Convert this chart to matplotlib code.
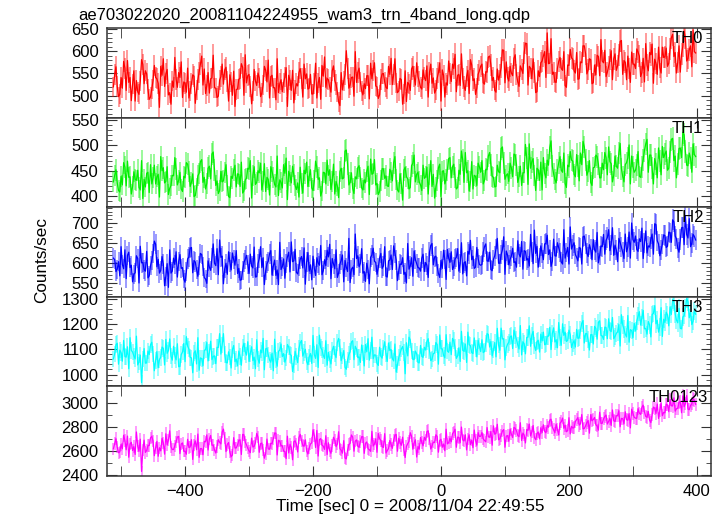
import numpy as np
import matplotlib
matplotlib.use("Agg")
import matplotlib.pyplot as plt
from matplotlib.ticker import MultipleLocator

plt.rcParams['font.family'] = ['Liberation Sans', 'DejaVu Sans']

# ==========================================================
# data (counts/sec, 2 s bins starting at t = -512 s)
# ==========================================================
t_start = -512
t_step = 2

th0 = [
    520, 548, 565, 521, 498, 503, 541, 517, 577, 562, 512, 579,
    530, 541, 489, 526, 556, 488, 534, 509, 503, 533, 581, 570,
    527, 556, 549, 514, 492, 497, 515, 534, 568, 541, 538, 528,
    474, 566, 546, 583, 521, 549, 559, 502, 507, 481, 533, 519,
    586, 537, 519, 552, 541, 576, 496, 531, 528, 508, 562, 495,
    510, 527, 547, 544, 483, 512, 536, 553, 571, 589, 524, 560,
    505, 523, 552, 506, 538, 540, 591, 518, 517, 496, 499, 535,
    543, 571, 526, 558, 564, 532, 488, 547, 531, 501, 555, 476,
    514, 515, 537, 539, 572, 564, 501, 592, 529, 545, 548, 521,
    482, 510, 559, 533, 523, 551, 540, 498, 506, 524, 566, 557,
    531, 580, 495, 543, 546, 518, 518, 491, 583, 507, 527, 536,
    509, 529, 542, 563, 476, 546, 535, 512, 557, 484, 513, 527,
    522, 552, 561, 538, 497, 571, 538, 549, 515, 517, 548, 504,
    504, 528, 573, 495, 529, 541, 492, 568, 544, 587, 519, 539,
    536, 520, 508, 556, 567, 534, 525, 509, 486, 478, 552, 513,
    533, 547, 601, 561, 517, 525, 541, 542, 499, 599, 530, 553,
    562, 531, 511, 502, 527, 516, 545, 545, 493, 573, 538, 557,
    574, 522, 520, 494, 502, 537, 549, 550, 531, 519, 516, 566,
    548, 584, 525, 548, 583, 529, 507, 511, 539, 536, 481, 503,
    556, 487, 530, 526, 512, 560, 566, 543, 524, 574, 543, 532,
    519, 515, 558, 541, 534, 567, 497, 552, 571, 528, 540, 506,
    513, 539, 552, 574, 488, 558, 546, 497, 529, 524, 578, 549,
    532, 571, 561, 593, 509, 546, 548, 523, 594, 538, 521, 512,
    543, 557, 505, 581, 569, 534, 538, 503, 517, 548, 556, 566,
    571, 529, 526, 554, 553, 587, 589, 569, 534, 541, 512, 508,
    560, 535, 547, 563, 603, 602, 529, 576, 541, 533, 566, 551,
    545, 584, 592, 547, 531, 521, 567, 559, 550, 596, 618, 617,
    524, 566, 562, 538, 583, 552, 507, 509, 556, 543, 574, 578,
    589, 599, 541, 641, 572, 573, 628, 548, 553, 531, 530, 562,
    577, 586, 561, 557, 599, 523, 519, 569, 568, 604, 585, 582,
    556, 551, 597, 537, 538, 576, 574, 612, 612, 594, 549, 558,
    583, 581, 527, 529, 569, 547, 591, 588, 545, 626, 578, 574,
    602, 543, 553, 566, 581, 601, 536, 583, 594, 557, 567, 592,
    622, 624, 548, 579, 575, 536, 589, 561, 530, 598, 571, 571,
    561, 605, 598, 589, 543, 552, 584, 531, 617, 569, 556, 597,
    592, 616, 528, 582, 573, 548, 609, 563, 551, 609, 586, 587,
    607, 566, 573, 604, 630, 638, 588, 597, 551, 575, 612, 553,
    594, 611, 645, 629, 578, 584, 603, 612, 565, 648, 599, 596,
]

th1 = [
    428, 441, 452, 426, 411, 408, 439, 422, 466, 457, 420, 469,
    437, 438, 404, 419, 448, 433, 431, 451, 417, 412, 470, 395,
    433, 418, 445, 447, 407, 462, 424, 436, 461, 424, 438, 443,
    398, 478, 450, 456, 426, 429, 458, 403, 415, 421, 441, 440,
    476, 453, 422, 431, 447, 414, 409, 439, 436, 466, 463, 448,
    419, 427, 444, 399, 401, 416, 440, 445, 468, 472, 427, 437,
    414, 425, 455, 459, 434, 483, 487, 452, 421, 430, 405, 411,
    449, 428, 430, 446, 462, 421, 399, 397, 439, 435, 451, 461,
    418, 444, 443, 419, 467, 406, 410, 432, 435, 455, 453, 470,
    396, 441, 458, 423, 427, 450, 446, 465, 412, 428, 464, 409,
    437, 433, 402, 458, 448, 437, 423, 418, 479, 401, 432, 427,
    416, 462, 445, 475, 393, 449, 440, 426, 459, 442, 421, 413,
    426, 398, 457, 424, 406, 451, 444, 467, 419, 439, 452, 416,
    411, 430, 469, 457, 433, 436, 400, 410, 447, 446, 424, 471,
    441, 452, 413, 429, 463, 404, 429, 420, 397, 448, 455, 434,
    436, 489, 491, 463, 422, 427, 446, 415, 405, 438, 434, 456,
    460, 437, 416, 412, 432, 426, 449, 459, 403, 473, 443, 445,
    472, 422, 425, 403, 409, 431, 454, 454, 435, 440, 420, 419,
    453, 447, 430, 466, 478, 432, 412, 408, 444, 425, 392, 451,
    457, 438, 434, 414, 417, 460, 465, 481, 428, 443, 447, 428,
    422, 411, 461, 435, 438, 457, 404, 442, 470, 419, 443, 396,
    418, 430, 456, 463, 399, 449, 450, 424, 433, 452, 474, 476,
    436, 458, 463, 436, 414, 417, 451, 443, 489, 471, 427, 486,
    446, 450, 410, 428, 468, 414, 441, 439, 421, 465, 458, 447,
    470, 424, 431, 453, 452, 479, 486, 461, 439, 437, 418, 419,
    461, 448, 446, 494, 497, 466, 433, 441, 444, 429, 465, 456,
    438, 483, 481, 462, 427, 438, 459, 421, 446, 446, 502, 475,
    423, 503, 455, 468, 474, 440, 411, 455, 452, 431, 467, 412,
    476, 445, 436, 471, 461, 496, 509, 459, 444, 433, 426, 452,
    466, 478, 451, 447, 485, 425, 417, 461, 458, 488, 471, 469,
    443, 438, 482, 460, 430, 485, 462, 508, 497, 472, 441, 449,
    470, 427, 421, 456, 457, 481, 478, 463, 436, 436, 465, 452,
    486, 476, 442, 497, 468, 464, 428, 441, 479, 459, 455, 485,
    504, 454, 439, 428, 462, 466, 475, 501, 424, 479, 458, 447,
    451, 462, 488, 439, 437, 458, 472, 490, 503, 512, 447, 481,
    481, 455, 424, 474, 463, 436, 495, 469, 442, 498, 476, 483,
    489, 451, 455, 487, 512, 514, 470, 479, 436, 463, 494, 495,
    476, 526, 521, 488, 461, 460, 485, 475, 447, 503, 482, 478,
]

th2 = [
    612, 608, 578, 584, 603, 567, 641, 596, 585, 633, 560, 619,
    627, 588, 594, 552, 571, 575, 618, 611, 549, 642, 600, 601,
    583, 579, 629, 562, 567, 593, 606, 624, 655, 647, 590, 609,
    574, 581, 616, 597, 542, 566, 598, 538, 633, 574, 579, 612,
    596, 628, 564, 603, 621, 586, 588, 559, 551, 577, 610, 615,
    637, 639, 575, 606, 602, 582, 566, 594, 624, 621, 590, 563,
    559, 548, 605, 589, 581, 612, 648, 599, 593, 636, 570, 658,
    614, 617, 547, 585, 599, 571, 628, 602, 582, 625, 608, 594,
    631, 573, 586, 556, 557, 581, 601, 609, 619, 596, 573, 622,
    592, 587, 640, 564, 565, 598, 611, 641, 588, 613, 545, 580,
    598, 604, 623, 631, 569, 592, 607, 568, 582, 545, 652, 583,
    590, 610, 561, 599, 615, 627, 577, 653, 603, 605, 634, 576,
    572, 591, 609, 616, 587, 638, 546, 602, 626, 579, 595, 557,
    617, 586, 568, 613, 600, 594, 644, 570, 580, 608, 593, 632,
    615, 647, 560, 611, 597, 585, 633, 563, 574, 597, 606, 620,
    552, 606, 589, 578, 662, 550, 584, 589, 570, 673, 611, 618,
    590, 599, 636, 574, 578, 553, 599, 582, 547, 614, 620, 637,
    604, 601, 571, 588, 612, 624, 586, 592, 641, 566, 564, 605,
    607, 620, 583, 643, 625, 607, 555, 581, 597, 596, 613, 571,
    576, 549, 649, 584, 592, 613, 566, 630, 608, 598, 588, 587,
    579, 612, 622, 578, 601, 594, 563, 627, 644, 649, 595, 615,
    617, 591, 573, 563, 606, 586, 632, 608, 558, 634, 612, 601,
    628, 583, 591, 610, 614, 636, 579, 598, 651, 572, 600, 603,
    567, 629, 622, 657, 608, 617, 586, 589, 639, 611, 596, 594,
    596, 627, 641, 648, 605, 604, 627, 583, 580, 609, 618, 636,
    662, 599, 599, 621, 633, 666, 571, 630, 620, 595, 609, 617,
    637, 601, 603, 589, 656, 622, 615, 654, 584, 631, 629, 607,
    611, 592, 672, 628, 598, 683, 624, 642, 589, 613, 643, 625,
    608, 648, 649, 670, 621, 633, 591, 604, 660, 618, 617, 651,
    638, 626, 602, 597, 684, 612, 626, 639, 597, 691, 635, 644,
    651, 621, 614, 605, 639, 637, 597, 666, 668, 648, 625, 616,
    646, 634, 608, 659, 633, 627, 677, 600, 619, 643, 641, 672,
    622, 657, 664, 684, 631, 646, 689, 619, 645, 633, 603, 662,
    652, 639, 627, 611, 673, 628, 640, 678, 612, 701, 659, 652,
    668, 634, 629, 661, 654, 688, 611, 651, 681, 625, 643, 640,
    660, 673, 622, 699, 697, 656, 648, 618, 633, 647, 671, 669,
    639, 642, 678, 676, 652, 709, 704, 668, 661, 637, 627, 659,
    689, 690, 646, 718, 672, 663, 712, 641, 650, 672, 667, 658,
]

th3 = [
    1062, 1082, 1118, 1124, 1041, 1097, 1087, 1053, 1135, 1071, 1069, 1110,
    1023, 1146, 1096, 1089, 1074, 1062, 1152, 1038, 1050, 1077, 968, 1061,
    1103, 1045, 1046, 1093, 1079, 1118, 1128, 1081, 1015, 1056, 1091, 1027,
    1060, 1068, 1109, 1104, 1038, 1139, 1084, 1095, 1141, 1073, 1057, 1112,
    1075, 1058, 1122, 1031, 1032, 1079, 1089, 1123, 1051, 1150, 1113, 1101,
    1068, 1066, 1007, 1085, 1094, 1042, 1146, 1017, 1066, 1063, 1035, 1096,
    1098, 1127, 1054, 1088, 1132, 1059, 1072, 1074, 1043, 1108, 1107, 1162,
    1081, 1117, 1162, 1080, 1048, 1046, 1090, 1069, 1026, 1099, 1115, 1051,
    1061, 1034, 1093, 1072, 1037, 1106, 1124, 1091, 1077, 1130, 1052, 1084,
    1110, 1055, 1069, 1023, 1138, 1061, 1045, 1097, 1086, 1143, 1019, 1102,
    1104, 1078, 1058, 1049, 1085, 1015, 1140, 1057, 1033, 1092, 1097, 1121,
    1071, 1083, 1049, 1066, 1119, 1109, 1080, 1076, 1012, 1040, 1092, 1071,
    1047, 1103, 1126, 1135, 1073, 1087, 1100, 1052, 1039, 1070, 1083, 1044,
    1155, 1079, 1064, 1118, 1028, 1156, 1106, 1098, 1076, 1064, 1134, 1037,
    1088, 1060, 1042, 1095, 1112, 1081, 1067, 1128, 1143, 1106, 1055, 1073,
    1095, 1029, 1021, 1058, 1079, 1090, 1129, 1134, 1059, 1112, 1101, 1067,
    1070, 1048, 1117, 1086, 1034, 1119, 1090, 1142, 1057, 1094, 1148, 1063,
    1078, 1077, 1044, 1036, 1108, 1072, 1065, 1105, 1130, 1081, 1052, 1125,
    1096, 1099, 1063, 1054, 1121, 1010, 1040, 1068, 1085, 1101, 1111, 1087,
    1003, 1126, 1074, 1148, 1137, 1093, 1060, 1059, 1093, 1082, 1048, 1046,
    1115, 1072, 1068, 1108, 1097, 1131, 1142, 1096, 1055, 1061, 1083, 1085,
    1127, 1119, 1041, 1157, 1102, 1102, 1076, 1066, 1158, 1093, 1088, 1128,
    1079, 1143, 1133, 1107, 1064, 1074, 1106, 1052, 1171, 1096, 1092, 1121,
    1048, 1168, 1118, 1115, 1087, 1083, 1145, 1104, 1070, 1136, 1112, 1091,
    1138, 1087, 1091, 1124, 1162, 1159, 1109, 1131, 1074, 1098, 1127, 1070,
    1183, 1117, 1096, 1184, 1141, 1142, 1058, 1106, 1120, 1128, 1149, 1153,
    1103, 1176, 1156, 1139, 1117, 1101, 1194, 1078, 1130, 1122, 1082, 1147,
    1148, 1193, 1112, 1156, 1171, 1114, 1095, 1130, 1136, 1089, 1160, 1133,
    1168, 1118, 1121, 1152, 1152, 1187, 1099, 1163, 1185, 1129, 1137, 1106,
    1206, 1145, 1116, 1201, 1155, 1168, 1131, 1135, 1176, 1158, 1107, 1124,
    1134, 1109, 1179, 1143, 1146, 1176, 1203, 1214, 1125, 1162, 1162, 1137,
    1097, 1158, 1158, 1121, 1191, 1183, 1140, 1207, 1213, 1155, 1153, 1139,
    1188, 1186, 1142, 1221, 1175, 1170, 1226, 1142, 1151, 1163, 1169, 1198,
    1113, 1237, 1197, 1180, 1160, 1149, 1234, 1128, 1178, 1174, 1146, 1203,
    1172, 1212, 1231, 1249, 1196, 1226, 1254, 1181, 1183, 1160, 1210, 1197,
    1149, 1238, 1242, 1273, 1201, 1215, 1168, 1189, 1265, 1151, 1219, 1206,
    1247, 1236, 1193, 1268, 1238, 1297, 1289, 1241, 1216, 1205, 1262, 1183,
    1181, 1228, 1234, 1262, 1301, 1289, 1225, 1247, 1198, 1211, 1253, 1239,
]

th0123 = [
    2618, 2662, 2702, 2631, 2585, 2593, 2655, 2618, 2731, 2687, 2610, 2724,
    2548, 2659, 2672, 2604, 2636, 2571, 2758, 2640, 2597, 2698, 2430, 2608,
    2690, 2588, 2604, 2645, 2645, 2709, 2722, 2683, 2561, 2627, 2679, 2556,
    2627, 2601, 2705, 2667, 2574, 2743, 2651, 2690, 2768, 2635, 2612, 2612,
    2643, 2676, 2716, 2721, 2578, 2658, 2667, 2597, 2599, 2573, 2697, 2629,
    2633, 2694, 2530, 2652, 2684, 2610, 2741, 2547, 2620, 2620, 2569, 2681,
    2676, 2734, 2608, 2700, 2729, 2648, 2649, 2609, 2583, 2637, 2694, 2672,
    2659, 2759, 2782, 2706, 2595, 2655, 2670, 2591, 2552, 2566, 2711, 2625,
    2625, 2650, 2688, 2693, 2571, 2738, 2735, 2674, 2652, 2622, 2601, 2586,
    2707, 2633, 2639, 2668, 2746, 2715, 2589, 2661, 2666, 2606, 2540, 2579,
    2699, 2617, 2614, 2664, 2662, 2702, 2750, 2748, 2567, 2689, 2681, 2643,
    2644, 2598, 2596, 2536, 2723, 2584, 2656, 2630, 2527, 2677, 2685, 2656,
    2592, 2711, 2738, 2685, 2647, 2639, 2693, 2601, 2575, 2624, 2658, 2668,
    2776, 2729, 2629, 2771, 2558, 2695, 2703, 2648, 2641, 2613, 2727, 2570,
    2668, 2603, 2581, 2647, 2714, 2690, 2637, 2657, 2760, 2619, 2606, 2582,
    2686, 2541, 2534, 2606, 2653, 2663, 2733, 2716, 2598, 2682, 2692, 2639,
    2631, 2678, 2719, 2719, 2580, 2664, 2675, 2618, 2611, 2597, 2763, 2641,
    2657, 2702, 2589, 2746, 2702, 2688, 2636, 2629, 2744, 2583, 2603, 2621,
    2687, 2653, 2622, 2690, 2731, 2738, 2598, 2706, 2670, 2647, 2715, 2611,
    2546, 2639, 2661, 2680, 2752, 2723, 2615, 2668, 2693, 2550, 2637, 2615,
    2712, 2672, 2643, 2714, 2689, 2761, 2768, 2698, 2616, 2643, 2674, 2670,
    2735, 2721, 2590, 2687, 2697, 2631, 2658, 2602, 2781, 2659, 2669, 2706,
    2676, 2744, 2758, 2781, 2631, 2716, 2712, 2668, 2799, 2692, 2683, 2735,
    2609, 2699, 2735, 2652, 2691, 2627, 2774, 2688, 2648, 2753, 2721, 2722,
    2753, 2701, 2687, 2676, 2795, 2718, 2714, 2762, 2648, 2809, 2739, 2747,
    2822, 2693, 2701, 2731, 2766, 2778, 2631, 2724, 2728, 2681, 2781, 2740,
    2712, 2796, 2789, 2768, 2728, 2719, 2835, 2687, 2749, 2733, 2667, 2779,
    2771, 2824, 2725, 2758, 2812, 2712, 2694, 2745, 2758, 2701, 2793, 2752,
    2818, 2763, 2751, 2812, 2797, 2857, 2864, 2798, 2776, 2751, 2822, 2776,
    2733, 2831, 2843, 2874, 2789, 2815, 2760, 2769, 2877, 2742, 2805, 2791,
    2794, 2845, 2861, 2878, 2815, 2826, 2903, 2784, 2787, 2809, 2836, 2853,
    2748, 2902, 2851, 2861, 2879, 2817, 2809, 2773, 2922, 2829, 2830, 2867,
    2887, 2899, 2824, 2846, 2872, 2812, 2941, 2851, 2845, 2893, 2893, 2935,
    2801, 2871, 2868, 2826, 2926, 2860, 2855, 2911, 2792, 2948, 2911, 2880,
    2873, 2872, 2952, 2915, 2904, 2963, 2981, 2924, 2887, 2881, 2929, 2857,
    2836, 2902, 2965, 2956, 2912, 2991, 2870, 2938, 2998, 2893, 2921, 2917,
    2989, 2983, 2927, 3027, 2976, 2974, 3042, 2931, 2951, 2956, 3005, 3012,
    2918, 3058, 2968, 2995, 3061, 2948, 2943, 2979, 2992, 3033, 3024, 2987,
]

bands = ['TH0', 'TH1', 'TH2', 'TH3', 'TH0123']
series = [th0, th1, th2, th3, th0123]
colors = ['#ff0000', '#00f000', '#0000ff', '#00ffff', '#ff00ff']
ylims = [(451, 652), (378, 555), (514, 741), (953, 1308), (2392, 3137)]
yticks = [[500, 550, 600, 650], [400, 450, 500, 550], [550, 600, 650, 700],
          [1000, 1100, 1200, 1300], [2400, 2600, 2800, 3000]]
yminor = [10, 10, 10, 20, 100]
label_x = [0.986, 0.986, 0.988, 0.986, 0.995]

time = np.arange(t_start, t_start + t_step * len(th0), t_step)

# ==========================================================
# figure
# ==========================================================
fig = plt.figure(figsize=(7.24, 5.16), dpi=100)
left, right = 107 / 724, 711 / 724
top, bottom = 1 - 28 / 516, 1 - 476 / 516
h = (top - bottom) / 5

for i, (name, y, c) in enumerate(zip(bands, series, colors)):
    ax = fig.add_axes([left, top - (i + 1) * h, right - left, h])
    y = np.asarray(y, dtype=float)
    # Poisson error bars drawn lighter, data line on top
    ax.errorbar(time, y, yerr=np.sqrt(y), fmt='none', ecolor=c,
                elinewidth=1.1, alpha=0.5)
    ax.plot(time, y, color=c, linewidth=0.9)

    ax.set_xlim(-522, 422)
    ax.set_ylim(*ylims[i])
    ax.set_yticks(yticks[i])
    ax.yaxis.set_minor_locator(MultipleLocator(yminor[i]))
    ax.xaxis.set_major_locator(MultipleLocator(200))
    ax.xaxis.set_minor_locator(MultipleLocator(100))

    ax.tick_params(which='both', direction='in', top=True, right=True,
                   labelsize=12, color='#333333', pad=6)
    ax.tick_params(axis='x', which='both', length=7)
    ax.tick_params(axis='y', which='major', length=7)
    ax.tick_params(axis='y', which='minor', length=3.5)
    for sp in ax.spines.values():
        sp.set_linewidth(1.1)
        sp.set_color('#333333')

    if i < 4:
        ax.tick_params(axis='x', labelbottom=False)

    ax.text(label_x[i], 0.88, name, transform=ax.transAxes,
            ha='right', va='center', fontsize=12)

# --- labels ---
fig.text(78 / 724, 1 - 15 / 516, 'ae703022020_20081104224955_wam3_trn_4band_long.qdp',
         ha='left', va='center', fontsize=12)
fig.text(42 / 724, 1 - 260 / 516, 'Counts/sec', rotation=90,
         ha='center', va='center', fontsize=12.3)
fig.text(410 / 724, 1 - 507 / 516, 'Time [sec] 0 = 2008/11/04 22:49:55',
         ha='center', va='center', fontsize=12.3)

fig.savefig('out.png', dpi=100)
